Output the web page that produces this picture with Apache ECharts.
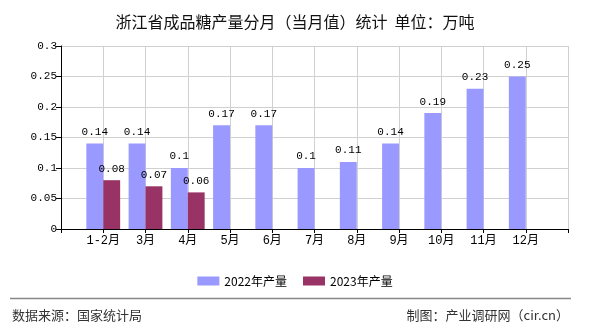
<!DOCTYPE html>
<html>
<head>
<meta charset="utf-8">
<script src="https://cdn.jsdelivr.net/npm/echarts@6/dist/echarts.min.js"></script>
<style>
html,body{margin:0;padding:0;background:#fff;}
#main{width:590px;height:330px;}
</style>
</head>
<body>
<div id="main"></div>
<script>
const titleText = '浙江省成品糖产量分月（当月值）统计  单位：万吨';
const categories = ['1-2月','3月','4月','5月','6月','7月','8月','9月','10月','11月','12月'];
const seriesNames = ['2022年产量','2023年产量'];
const values2022 = [0.14,0.14,0.1,0.17,0.17,0.1,0.11,0.14,0.19,0.23,0.25];
const values2023 = [0.08,0.07,0.06,null,null,null,null,null,null,null,null];
const yTicks = [0,0.05,0.1,0.15,0.2,0.25,0.3];
const sourceText = '数据来源：国家统计局';
const creditText = '制图：产业调研网（cir.cn）';

const xData = [''].concat(categories, ['']);
const pad = arr => [null].concat(arr, [null]);
const monoFont = '"Liberation Mono", "Noto Sans CJK SC", monospace';
const cjkFont = '"Noto Sans CJK SC", sans-serif';

const chart = echarts.init(document.getElementById('main'), null, {renderer:'canvas'});
const labelOpt = {
  show: true, position: 'top', distance: 6, color: '#000',
  fontFamily: monoFont, fontSize: 11,
  formatter: p => (p.value == null ? '' : String(p.value))
};
chart.setOption({
  animation: false,
  backgroundColor: '#fff',
  title: {
    text: titleText, left: 'center', top: 9,
    textStyle: {fontFamily: cjkFont, fontSize: 16, fontWeight: 'normal', color: '#111'}
  },
  legend: {
    data: seriesNames, left: 'center', top: 270, icon: 'rect',
    itemWidth: 22, itemHeight: 9, itemGap: 16,
    textStyle: {fontFamily: cjkFont, fontSize: 12, color: '#000'}
  },
  grid: {left: 61, right: 22, top: 46, bottom: 101, containLabel: false},
  xAxis: {
    type: 'category', data: xData, boundaryGap: false,
    axisLine: {lineStyle: {color: '#000', width: 1}},
    axisTick: {show: true, interval: 0, length: 4, lineStyle: {color: '#000'}},
    axisLabel: {interval: 0, margin: 6, color: '#000', fontFamily: monoFont, fontSize: 12},
    splitLine: {show: true, interval: 0, lineStyle: {color: '#d0d0d0'}}
  },
  yAxis: {
    type: 'value', min: yTicks[0], max: yTicks[yTicks.length-1], interval: yTicks[1]-yTicks[0],
    axisLine: {show: true, lineStyle: {color: '#000', width: 1}},
    axisTick: {show: true, length: 5, lineStyle: {color: '#000'}},
    axisLabel: {margin: 4, color: '#000', fontFamily: monoFont, fontSize: 11},
    splitLine: {show: true, lineStyle: {color: '#d0d0d0'}}
  },
  series: [
    {name: seriesNames[0], type: 'bar', data: pad(values2022), barGap: '0%', barCategoryGap: '20%',
     itemStyle: {color: '#9999ff'}, label: labelOpt},
    {name: seriesNames[1], type: 'bar', data: pad(values2023), barGap: '0%', barCategoryGap: '20%',
     itemStyle: {color: '#993366'}, label: labelOpt}
  ],
  graphic: [
    {type: 'line', shape: {x1: 10, y1: 298.5, x2: 571, y2: 298.5}, style: {stroke: '#888', lineWidth: 1.5}},
    {type: 'text', left: 12, top: 309, style: {text: sourceText, fontFamily: cjkFont, fontSize: 13, fill: '#333'}},
    {type: 'text', right: 21, top: 309, style: {text: creditText, fontFamily: cjkFont, fontSize: 13, fill: '#333'}}
  ]
});
</script>
</body>
</html>
